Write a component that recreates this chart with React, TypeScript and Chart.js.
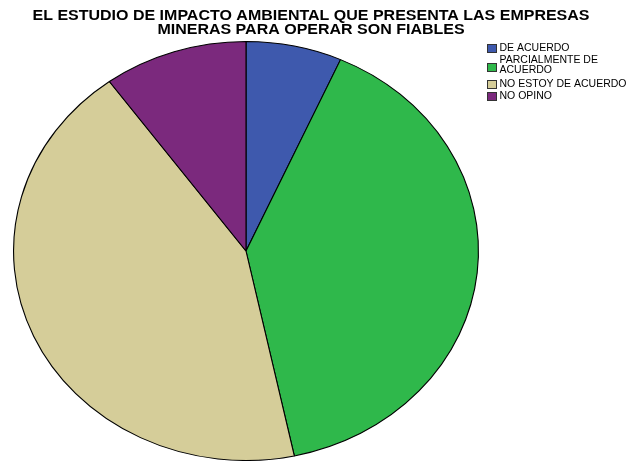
import React, { useEffect, useRef } from "react";
import { Chart, registerables } from "chart.js";

Chart.register(...registerables);

const titleLines = [
  "EL ESTUDIO DE IMPACTO AMBIENTAL QUE PRESENTA LAS EMPRESAS",
  "MINERAS PARA OPERAR SON FIABLES",
];
const categories = ["DE ACUERDO", "PARCIALMENTE DE ACUERDO", "NO ESTOY DE ACUERDO", "NO OPINO"];
const legendLines = [["DE ACUERDO"], ["PARCIALMENTE DE", "ACUERDO"], ["NO ESTOY DE ACUERDO"], ["NO OPINO"]];
const values = [2, 12, 13, 3];
const colors = ["#3e59ad", "#2fb84b", "#d5cd99", "#7b297d"];

const CX = 246;
const CY = 251;
const RY = 210;
const RX = 233;

const ellipsePlugin = {
  id: "ellipse",
  beforeDatasetsDraw(chart: any) {
    const ctx = chart.ctx;
    ctx.save();
    ctx.translate(CX, CY);
    ctx.scale(RX / RY, 1);
    ctx.translate(-CX, -CY);
  },
  afterDatasetsDraw(chart: any) {
    chart.ctx.restore();
  },
};

const textPlugin = {
  id: "texts",
  afterDraw(chart: any) {
    const ctx = chart.ctx;
    ctx.save();
    ctx.fillStyle = "#000";
    ctx.textAlign = "center";
    ctx.textBaseline = "middle";
    ctx.font = "bold 14.5px 'Liberation Sans', Arial, sans-serif";
    const w = ctx.measureText(titleLines[0]).width;
    const sx = 557 / w;
    ctx.save();
    ctx.translate(311, 0);
    ctx.scale(sx, 1);
    ctx.fillText(titleLines[0], 0, 15.5);
    ctx.fillText(titleLines[1], 0, 30);
    ctx.restore();

    ctx.textAlign = "left";
    ctx.font = "10.5px 'Liberation Sans', Arial, sans-serif";
    const boxY = [44, 63, 80, 92];
    const textY = [[48.5], [60.5], [84.5], [96.5]];
    for (let i = 0; i < categories.length; i++) {
      ctx.fillStyle = colors[i];
      ctx.fillRect(487, boxY[i], 10, 9);
      ctx.strokeStyle = "#333";
      ctx.lineWidth = 1;
      ctx.strokeRect(487.5, boxY[i] + 0.5, 9, 8);
      ctx.fillStyle = "#000";
      legendLines[i].forEach((t, j) => ctx.fillText(t, 499.5, textY[i][0] + j * 10));
    }
    ctx.restore();
  },
};

export default function App() {
  const ref = useRef<HTMLCanvasElement>(null);
  useEffect(() => {
    document.body.style.margin = "0";
    const chart = new Chart(ref.current!, {
      type: "pie",
      data: {
        labels: categories,
        datasets: [
          {
            data: values,
            backgroundColor: colors,
            borderColor: "#000",
            borderWidth: 1,
            borderAlign: "center",
          } as any,
        ],
      },
      options: {
        animation: false,
        responsive: false,
        rotation: 0,
        layout: {
          padding: { top: CY - RY, bottom: 461 - (CY + RY), left: CX - RY, right: 628 - (CX + RY) },
        },
        plugins: {
          legend: { display: false },
          title: { display: false },
          tooltip: { enabled: false },
        },
      },
      plugins: [ellipsePlugin, textPlugin],
    });
    return () => chart.destroy();
  }, []);
  return (
    <div style={{ width: 628, height: 461, background: "#fff" }}>
      <canvas ref={ref} width={628} height={461} />
    </div>
  );
}
